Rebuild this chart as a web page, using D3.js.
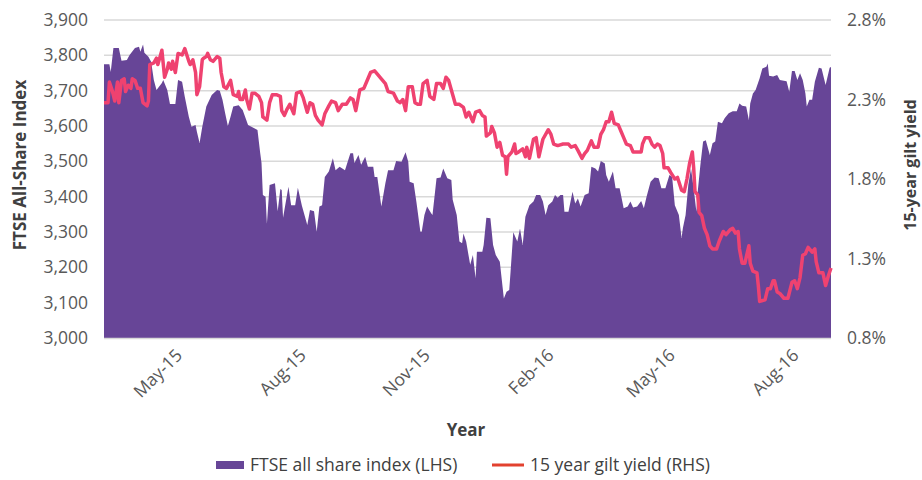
<!DOCTYPE html>
<html>
<head>
<meta charset="utf-8">
<script src="https://cdn.jsdelivr.net/npm/d3@7"></script>
<style>
    body { margin: 0; background: #fff; }
    svg { display: block; font-family: 'Open Sans', sans-serif; }
</style>
</head>
<body>
<svg id="chart" width="922" height="480"></svg>
<script>
// series run from 3 Mar 2015 to 24 Aug 2016, days are counted from the start
var startDate = new Date(2015, 2, 3),
    endDate = new Date(2016, 7, 24);

var ftseDays = [0, 4, 5, 7, 11, 13, 17, 19, 23, 26, 27, 29, 30, 33, 35, 37, 39, 43, 44, 47,
    49, 53, 55, 58, 60, 63, 65, 68, 69, 71, 73, 76, 80, 84, 86, 88, 90, 92, 94, 96,
    100, 103, 107, 112, 114, 116, 117, 118, 120, 121, 123, 127, 129, 131, 132, 133, 137, 139, 142, 144,
    147, 151, 153, 156, 158, 160, 162, 164, 167, 170, 172, 175, 179, 183, 185, 186, 189, 191, 194, 196,
    200, 201, 203, 206, 209, 211, 215, 217, 221, 224, 226, 227, 230, 232, 235, 236, 238, 240, 243, 244,
    247, 250, 252, 255, 258, 259, 262, 264, 266, 267, 269, 272, 274, 276, 277, 281, 282, 284, 287, 289,
    291, 294, 297, 299, 301, 302, 304, 307, 309, 311, 313, 316, 319, 321, 324, 326, 328, 330, 333, 335,
    337, 339, 341, 342, 345, 348, 350, 352, 354, 357, 360, 362, 365, 367, 369, 372, 373, 375, 378, 380,
    383, 386, 389, 391, 393, 396, 399, 401, 403, 406, 409, 412, 414, 417, 420, 422, 424, 427, 429, 430,
    432, 434, 436, 438, 440, 441, 443, 445, 447, 450, 452, 454, 456, 459, 461, 464, 467, 470, 472, 474,
    477, 479, 480, 482, 484, 487, 489, 492, 493, 494, 497, 500, 502, 507, 509, 511, 513, 515, 517, 519,
    521, 522, 524, 526, 528, 531, 533, 536, 539, 540];

var ftseValues = [3775, 3775, 3753, 3821, 3821, 3785, 3787, 3801, 3821, 3824, 3810, 3831, 3807, 3796, 3782, 3730, 3702, 3722, 3730, 3702,
    3662, 3662, 3730, 3725, 3683, 3626, 3598, 3603, 3584, 3552, 3598, 3655, 3688, 3702, 3700, 3674, 3636, 3600, 3626, 3655,
    3659, 3645, 3603, 3593, 3589, 3524, 3495, 3405, 3400, 3323, 3433, 3438, 3359, 3422, 3419, 3340, 3428, 3376, 3376, 3425,
    3374, 3320, 3362, 3359, 3301, 3372, 3376, 3456, 3471, 3509, 3475, 3485, 3475, 3523, 3523, 3495, 3518, 3490, 3513, 3485,
    3485, 3456, 3456, 3372, 3438, 3475, 3475, 3501, 3499, 3526, 3499, 3442, 3438, 3386, 3301, 3301, 3348, 3372, 3353, 3348,
    3452, 3454, 3480, 3452, 3447, 3391, 3348, 3273, 3268, 3296, 3273, 3207, 3235, 3169, 3244, 3244, 3263, 3340, 3339, 3263,
    3235, 3216, 3112, 3131, 3136, 3188, 3299, 3273, 3310, 3263, 3343, 3376, 3386, 3405, 3405, 3386, 3348, 3376, 3386, 3405,
    3397, 3405, 3405, 3357, 3357, 3414, 3381, 3395, 3372, 3405, 3410, 3485, 3480, 3471, 3501, 3494, 3461, 3442, 3471, 3424,
    3424, 3367, 3372, 3386, 3369, 3372, 3388, 3367, 3400, 3442, 3454, 3452, 3424, 3424, 3461, 3456, 3376, 3348, 3283, 3311,
    3348, 3433, 3480, 3424, 3357, 3414, 3490, 3556, 3560, 3518, 3551, 3556, 3612, 3608, 3622, 3636, 3642, 3642, 3664, 3657,
    3655, 3617, 3664, 3692, 3702, 3735, 3763, 3768, 3777, 3742, 3740, 3744, 3730, 3727, 3697, 3756, 3756, 3730, 3749, 3730,
    3692, 3655, 3674, 3674, 3725, 3765, 3763, 3716, 3765, 3767];

var giltDays = [0, 3, 4, 6, 8, 10, 11, 13, 15, 16, 18, 20, 21, 23, 25, 27, 29, 32, 33, 34,
    37, 39, 40, 43, 45, 47, 48, 50, 51, 53, 55, 58, 60, 63, 64, 66, 68, 69, 71, 73,
    74, 76, 77, 79, 81, 84, 86, 87, 89, 91, 94, 96, 99, 100, 101, 103, 105, 106, 108, 110,
    112, 115, 117, 118, 121, 123, 125, 128, 131, 132, 134, 136, 138, 141, 143, 146, 148, 151, 153, 155,
    157, 159, 162, 164, 167, 169, 172, 174, 177, 180, 183, 185, 187, 190, 193, 195, 198, 201, 204, 206,
    209, 211, 215, 218, 220, 222, 224, 226, 229, 231, 233, 235, 237, 240, 242, 245, 247, 250, 252, 254,
    256, 259, 261, 264, 267, 269, 271, 274, 276, 279, 281, 283, 284, 287, 288, 290, 292, 294, 296, 298,
    299, 300, 303, 305, 306, 308, 311, 313, 314, 316, 319, 321, 323, 326, 330, 332, 334, 337, 341, 345,
    347, 350, 352, 355, 357, 359, 362, 364, 367, 369, 371, 373, 375, 377, 379, 382, 384, 386, 388, 391,
    393, 396, 399, 400, 402, 405, 407, 409, 411, 413, 415, 416, 419, 421, 424, 426, 429, 431, 433, 435,
    437, 438, 439, 441, 442, 444, 446, 448, 450, 452, 455, 457, 460, 462, 465, 467, 469, 471, 472, 474,
    476, 479, 480, 482, 485, 486, 487, 491, 493, 495, 497, 498, 500, 502, 505, 508, 511, 513, 515, 517,
    519, 521, 523, 526, 528, 529, 531, 534, 536, 538, 540];

var giltYields = [2.28, 2.28, 2.41, 2.36, 2.29, 2.41, 2.28, 2.42, 2.43, 2.35, 2.39, 2.37, 2.43, 2.42, 2.37, 2.37, 2.28, 2.26, 2.29, 2.52,
    2.53, 2.56, 2.52, 2.61, 2.44, 2.49, 2.53, 2.49, 2.54, 2.47, 2.59, 2.58, 2.62, 2.54, 2.52, 2.55, 2.47, 2.33, 2.38, 2.55,
    2.56, 2.57, 2.59, 2.55, 2.54, 2.57, 2.56, 2.47, 2.38, 2.37, 2.42, 2.33, 2.32, 2.35, 2.30, 2.30, 2.36, 2.30, 2.24, 2.34,
    2.34, 2.32, 2.28, 2.19, 2.17, 2.28, 2.33, 2.33, 2.32, 2.23, 2.20, 2.24, 2.27, 2.21, 2.34, 2.35, 2.31, 2.22, 2.28, 2.27,
    2.20, 2.17, 2.14, 2.21, 2.26, 2.29, 2.28, 2.23, 2.27, 2.27, 2.31, 2.30, 2.23, 2.36, 2.37, 2.41, 2.47, 2.48, 2.45, 2.43,
    2.40, 2.35, 2.34, 2.29, 2.28, 2.30, 2.23, 2.38, 2.38, 2.28, 2.27, 2.27, 2.40, 2.42, 2.32, 2.30, 2.40, 2.40, 2.37, 2.44,
    2.42, 2.33, 2.27, 2.27, 2.25, 2.19, 2.22, 2.16, 2.22, 2.23, 2.20, 2.19, 2.07, 2.09, 2.13, 2.09, 2.00, 2.03, 1.95, 1.94,
    1.83, 1.94, 1.97, 2.02, 1.96, 1.97, 1.99, 1.94, 2.00, 1.93, 2.05, 2.06, 1.94, 2.05, 2.11, 2.08, 2.02, 2.01, 2.02, 2.02,
    2.00, 2.01, 1.98, 1.93, 1.96, 1.98, 2.04, 2.00, 2.00, 2.08, 2.11, 2.16, 2.16, 2.22, 2.15, 2.14, 2.10, 2.06, 2.02, 2.01,
    1.97, 1.97, 1.97, 2.02, 2.06, 2.06, 2.02, 2.00, 2.02, 2.01, 1.96, 1.87, 1.87, 1.84, 1.80, 1.81, 1.73, 1.72, 1.80, 1.90,
    1.97, 1.87, 1.72, 1.70, 1.59, 1.57, 1.49, 1.45, 1.38, 1.36, 1.36, 1.41, 1.47, 1.45, 1.48, 1.49, 1.46, 1.47, 1.36, 1.27,
    1.27, 1.38, 1.27, 1.22, 1.21, 1.13, 1.03, 1.04, 1.11, 1.11, 1.16, 1.16, 1.09, 1.08, 1.05, 1.05, 1.15, 1.16, 1.11, 1.18,
    1.32, 1.33, 1.37, 1.34, 1.36, 1.28, 1.21, 1.21, 1.13, 1.19, 1.24];

var tickMonths = ['2015-05-01', '2015-08-01', '2015-11-01', '2016-02-01', '2016-05-01', '2016-08-01'];
var leftTicks = [3000, 3100, 3200, 3300, 3400, 3500, 3600, 3700, 3800, 3900];
var rightTicks = [0.8, 1.3, 1.8, 2.3, 2.8];

var plot = {left: 104, right: 831, top: 20, bottom: 338},
    purple = '#674597',
    pink = '#ef4270',
    textColor = '#595959',
    titleColor = '#404040';

var svg = d3.select('#chart');

var parseDay = d3.timeParse('%Y-%m-%d'),
    formatTick = d3.timeFormat('%b-%y');

var x = d3.scaleTime().domain([startDate, endDate]).range([plot.left, plot.right]),
    yLeft = d3.scaleLinear().domain([3000, 3900]).range([plot.bottom, plot.top]),
    yRight = d3.scaleLinear().domain([0.8, 2.8]).range([plot.bottom, plot.top]);

function dayToDate(d) {
    return d3.timeDay.offset(startDate, d);
}

var ftse = ftseDays.map(function(d, i) {
    return {date: dayToDate(d), value: ftseValues[i]};
});
var gilt = giltDays.map(function(d, i) {
    return {date: dayToDate(d), value: giltYields[i]};
});

// gridlines
svg.append('g')
    .selectAll('line')
    .data(leftTicks.slice(1))
    .enter()
    .append('line')
        .attr('x1', plot.left)
        .attr('x2', plot.right)
        .attr('y1', yLeft)
        .attr('y2', yLeft)
        .attr('stroke', '#d9d9d9')
        .attr('stroke-width', 1.5);

// FTSE area
svg.append('path')
    .datum(ftse)
    .attr('fill', purple)
    .attr('d', d3.area()
        .x(function(d) { return x(d.date); })
        .y0(plot.bottom)
        .y1(function(d) { return yLeft(d.value); }));

// bottom axis line
svg.append('line')
    .attr('x1', plot.left)
    .attr('x2', plot.right)
    .attr('y1', plot.bottom + 0.5)
    .attr('y2', plot.bottom + 0.5)
    .attr('stroke', '#d9d9d9')
    .attr('stroke-width', 1.5);

// gilt yield line
svg.append('path')
    .datum(gilt)
    .attr('fill', 'none')
    .attr('stroke', pink)
    .attr('stroke-width', 3.5)
    .attr('stroke-linejoin', 'round')
    .attr('d', d3.line()
        .x(function(d) { return x(d.date); })
        .y(function(d) { return yRight(d.value); }));

// left axis
var leftAxis = svg.append('g')
    .attr('transform', 'translate(' + plot.left + ',0)')
    .call(d3.axisLeft(yLeft).tickValues(leftTicks).tickSize(0).tickPadding(16).tickFormat(d3.format(',')));

// right axis
var rightAxis = svg.append('g')
    .attr('transform', 'translate(' + plot.right + ',0)')
    .call(d3.axisRight(yRight).tickValues(rightTicks).tickSize(0).tickPadding(16).tickFormat(function(d) {
        return d.toFixed(1) + '%';
    }));

// bottom axis
var bottomAxis = svg.append('g')
    .attr('transform', 'translate(0,' + plot.bottom + ')')
    .call(d3.axisBottom(x).tickValues(tickMonths.map(parseDay)).tickSize(0).tickFormat(formatTick));

bottomAxis.selectAll('text')
    .attr('text-anchor', 'end')
    .attr('dy', '0.35em')
    .attr('transform', 'translate(-5,14) rotate(-45)')
    .attr('y', 0)
    .attr('x', 0);

[leftAxis, rightAxis, bottomAxis].forEach(function(axis) {
    axis.select('.domain').remove();
    axis.selectAll('text')
        .attr('fill', textColor)
        .style('font-size', '17.5px')
        .style('font-family', "'Open Sans', sans-serif");
});

// axis titles
svg.append('text')
    .attr('transform', 'translate(26,165) rotate(-90)')
    .attr('text-anchor', 'middle')
    .attr('fill', titleColor)
    .style('font-size', '17px')
    .style('font-weight', 'bold')
    .text('FTSE All-Share Index');

svg.append('text')
    .attr('transform', 'translate(916,165) rotate(-90)')
    .attr('text-anchor', 'middle')
    .attr('fill', titleColor)
    .style('font-size', '16px')
    .style('font-weight', 'bold')
    .text('15-year gilt yield');

svg.append('text')
    .attr('x', 466)
    .attr('y', 436)
    .attr('text-anchor', 'middle')
    .attr('fill', titleColor)
    .style('font-size', '17px')
    .style('font-weight', 'bold')
    .text('Year');

// legend
var legend = svg.append('g').attr('transform', 'translate(216,465)');

legend.append('rect')
    .attr('x', 0)
    .attr('y', -4)
    .attr('width', 28)
    .attr('height', 8)
    .attr('fill', purple);

legend.append('text')
    .attr('x', 34)
    .attr('dy', '0.35em')
    .attr('fill', titleColor)
    .style('font-size', '17.5px')
    .text('FTSE all share index (LHS)');

legend.append('line')
    .attr('x1', 276)
    .attr('x2', 308)
    .attr('y1', 0)
    .attr('y2', 0)
    .attr('stroke', '#e2412f')
    .attr('stroke-width', 3);

legend.append('text')
    .attr('x', 314)
    .attr('dy', '0.35em')
    .attr('fill', titleColor)
    .style('font-size', '17.5px')
    .text('15 year gilt yield (RHS)');
</script>
</body>
</html>
